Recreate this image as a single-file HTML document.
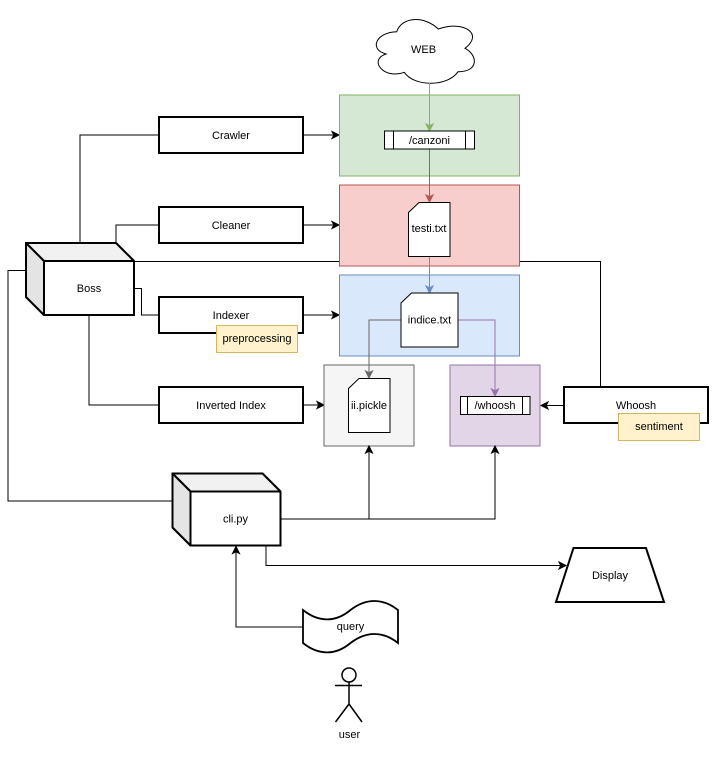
<!DOCTYPE html>
<html><head><meta charset="utf-8"><style>
html,body{margin:0;padding:0;background:#fff;width:726px;height:759px;overflow:hidden}
svg{display:block}
text{font-family:"Liberation Sans",Arial,sans-serif;font-size:11px;text-anchor:middle;fill:#000}
.l{fill:none;stroke:#000;stroke-width:1}
.b{fill:#fff;stroke:#000;stroke-width:2}
.n{fill:#fff;stroke:#000;stroke-width:1}
</style></head><body>
<svg width="726" height="759" viewBox="0 0 726 759" xmlns="http://www.w3.org/2000/svg">
<rect width="726" height="759" fill="#fff"/>
<!-- connectors behind -->
<path class="l" d="M80,243V135H159"/>
<path class="l" d="M116,243V225H159"/>
<path class="l" d="M134,288.500H141.500V315H159"/>
<path class="l" d="M89,315V405H159"/>
<path class="l" d="M134,261.500H600.500V387"/>
<path class="l" d="M26,270.500H8V501H172"/>
<path class="l" d="M303,135H333M303,225H333M303,315H333M303,405H318M564,405.500H546"/>
<path d="M339,135l-7,-3.500 1.750,3.500 -1.750,3.500zM339,225l-7,-3.500 1.750,3.500 -1.750,3.500zM339,315l-7,-3.500 1.750,3.500 -1.750,3.500zM324,405l-7,-3.500 1.750,3.500 -1.750,3.500zM541,405.500l7,-3.500 -1.750,3.500 1.750,3.500z" fill="#000" stroke="#000"/>
<!-- containers -->
<rect x="339.500" y="95" width="180" height="81" fill="#d5e8d4" stroke="#82b366"/>
<rect x="339.500" y="185" width="180" height="81" fill="#f8cecc" stroke="#b85450"/>
<rect x="339.500" y="275" width="180" height="81" fill="#dae8fc" stroke="#6c8ebf"/>
<rect x="324" y="365" width="90" height="81" fill="#f5f5f5" stroke="#666"/>
<rect x="450" y="365" width="90" height="81" fill="#e1d5e7" stroke="#9673a6"/>
<!-- process boxes -->
<rect class="b" x="159" y="117" width="144" height="36"/>
<rect class="b" x="159" y="207" width="144" height="36"/>
<rect class="b" x="159" y="297" width="144" height="36"/>
<rect class="b" x="159" y="387" width="144" height="36"/>
<rect class="b" x="564" y="387" width="144" height="36"/>
<text x="231" y="139">Crawler</text>
<text x="231" y="229">Cleaner</text>
<text x="231" y="319">Indexer</text>
<text x="231" y="409">Inverted Index</text>
<text x="636" y="409">Whoosh</text>
<rect x="216.500" y="325.500" width="81" height="27" fill="#fff2cc" stroke="#d6b656"/>
<text x="257" y="342">preprocessing</text>
<rect x="618.500" y="413.500" width="81" height="27" fill="#fff2cc" stroke="#d6b656"/>
<text x="659" y="430">sentiment</text>
<!-- Boss cube -->
<path d="M26,243H116L134,261V315H44L26,297Z" fill="#fff" stroke="#000" stroke-width="2"/>
<path d="M26,243H116L134,261H44Z" fill="#f1f1f1" stroke="#000" stroke-width="2" stroke-linejoin="round"/>
<path d="M26,243L44,261V315L26,297Z" fill="#e4e4e4" stroke="#000" stroke-width="2" stroke-linejoin="round"/>
<text x="89" y="292">Boss</text>
<!-- cli cube -->
<path d="M172.500,473.500H262.500L280.500,491.500V545.500H190.500L172.500,527.500Z" fill="#fff" stroke="#000" stroke-width="2"/>
<path d="M172.500,473.500H262.500L280.500,491.500H190.500Z" fill="#f1f1f1" stroke="#000" stroke-width="2" stroke-linejoin="round"/>
<path d="M172.500,473.500L190.500,491.500V545.500L172.500,527.500Z" fill="#e4e4e4" stroke="#000" stroke-width="2" stroke-linejoin="round"/>
<text x="235.500" y="522.500">cli.py</text>
<!-- cli connectors -->
<path class="l" d="M281,519H369V452"/>
<path class="l" d="M281,519H495V452"/>
<path d="M369,446l-3.500,7 3.500,-1.750 3.500,1.750zM495,446l-3.500,7 3.500,-1.750 3.500,1.750z" fill="#000" stroke="#000"/>
<path class="l" d="M266,546V565.500H560"/>
<path d="M566,565.500l-7,-3.500 1.750,3.500 -1.750,3.500z" fill="#000" stroke="#000"/>
<path class="l" d="M303,627H236V552"/>
<path d="M236,546.500l-3.500,7 3.500,-1.750 3.500,1.750z" fill="#000" stroke="#000"/>
<!-- cloud -->
<path d="M396.700,31.700C377,32 368,49 386,54C368,60 384,80 404.300,72.300C414,87 448,87 458,71.700C479,72 478,55 465,48.300C484,34 464,20 438.300,29C425,16 402,16 396.700,31.700Z" fill="#fff" stroke="#000"/>
<text x="423.500" y="53">WEB</text>
<!-- pipeline lines -->
<path d="M429.500,83V125" fill="none" stroke="#82b366"/>
<path d="M429.500,131l-3.500,-7 3.500,1.750 3.500,-1.750z" fill="#82b366" stroke="#82b366"/>
<path d="M429.500,149V196" fill="none" stroke="#b85450"/>
<path d="M429.500,202l-3.500,-7 3.500,1.750 3.500,-1.750z" fill="#b85450" stroke="#b85450"/>
<path d="M429.500,256V287" fill="none" stroke="#6c8ebf"/>
<path d="M429.500,293l-3.500,-7 3.500,1.750 3.500,-1.750z" fill="#6c8ebf" stroke="#6c8ebf"/>
<path d="M401,320H369V372" fill="none" stroke="#666"/>
<path d="M369,378l-3.500,-7 3.500,1.750 3.500,-1.750z" fill="#666" stroke="#666"/>
<path d="M458,320H495V390" fill="none" stroke="#9673a6"/>
<path d="M495,396l-3.500,-7 3.500,1.750 3.500,-1.750z" fill="#9673a6" stroke="#9673a6"/>
<!-- inner nodes -->
<rect class="n" x="384.500" y="131" width="90" height="18"/>
<path class="l" d="M393.500,131V149M465.500,131V149"/>
<text x="429.500" y="144">/canzoni</text>
<path class="n" d="M419,202.500H450V256.500H408.500V212.500Z"/>
<text x="429" y="232">testi.txt</text>
<path class="n" d="M411.500,293H458V347H401V303Z"/>
<text x="429.500" y="323.500">indice.txt</text>
<path class="n" d="M359,378.500H390V432.500H348.500V388.500Z"/>
<text x="369" y="409">ii.pickle</text>
<rect class="n" x="460.500" y="396.500" width="69.500" height="18"/>
<path class="l" d="M467.500,396.500V414.500M522.500,396.500V414.500"/>
<text x="495" y="409">/whoosh</text>
<!-- display -->
<path d="M573.500,548H646L664,602H556Z" fill="#fff" stroke="#000" stroke-width="2"/>
<text x="610" y="579">Display</text>
<!-- query -->
<path d="M303,610C318,622 335,623 350.500,610C366,598 383,598 398,610V643C383,631 366,631 350.500,643C335,656 318,655 303,643Z" fill="#fff" stroke="#000" stroke-width="1.800"/>
<text x="350.500" y="630">query</text>
<!-- user -->
<circle cx="349" cy="675" r="7" fill="#fff" stroke="#000" stroke-width="1.500"/>
<path d="M349,682V704M335,685.500H362M349,704L335.500,722M349,704L362,722" fill="none" stroke="#000" stroke-width="1.500"/>
<text x="349.500" y="738">user</text>
</svg>
</body></html>
